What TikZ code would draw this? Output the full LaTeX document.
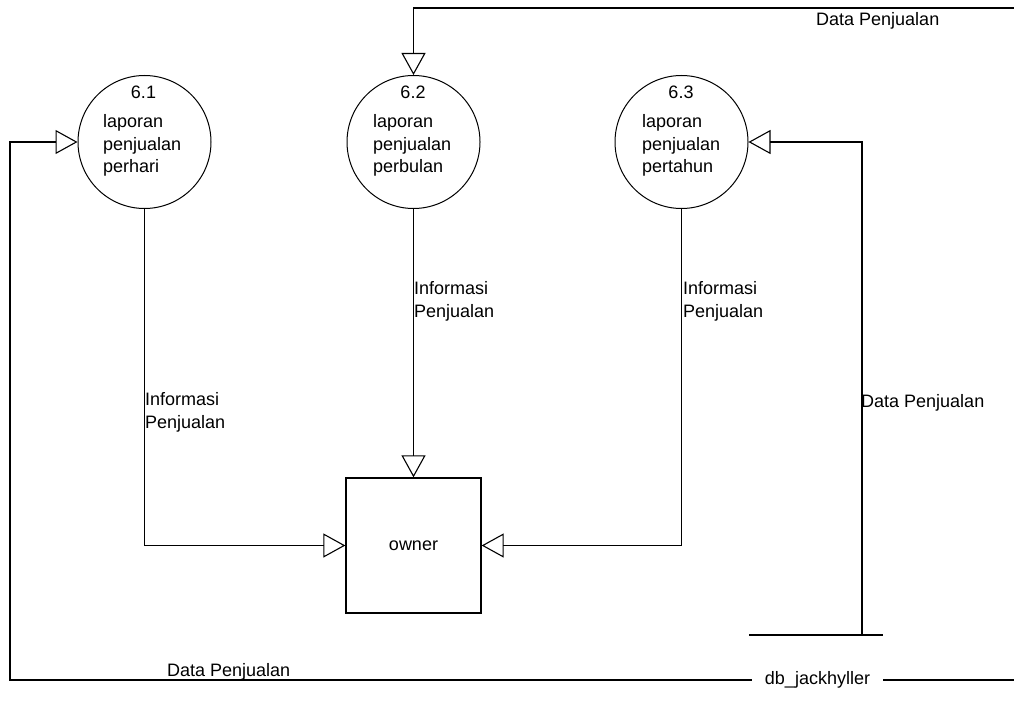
\documentclass[tikz,border=0pt]{standalone}
\usepackage{fontspec}
\setmainfont{Liberation Sans}
\usetikzlibrary{arrows.meta}
\begin{document}
\begin{tikzpicture}[x=1pt,y=-1pt,
  proc/.style={draw, circle, minimum size=133pt, inner sep=0pt, line width=1pt},
  ent/.style={draw, minimum width=135pt, minimum height=135pt, line width=1.3pt, inner sep=0pt, font=\fontsize{18}{22.8}\selectfont},
  flow/.style={line width=1.3pt, -{Triangle[open, length=22pt, width=24pt, line width=1.1pt]}},
  plain/.style={line width=1.3pt},
  txt/.style={font=\fontsize{18}{22.8}\selectfont, inner sep=0pt},
  ]
\useasboundingbox (0,0) rectangle (1014,722);

% processes
\node[proc] (p1) at (144.5,142) {};
\node[proc] (p2) at (413.5,142) {};
\node[proc] (p3) at (681.5,142) {};

\node[txt] (n1) at (143.5,92.5) {6.1};
\node[txt] (n2) at (413,92.5) {6.2};
\node[txt] (n3) at (681,92.5) {6.3};
\node[txt, align=left, anchor=north west] (d1) at (103,114) {laporan\\penjualan\\perhari};
\node[txt, align=left, anchor=north west] (d2) at (373,114) {laporan\\penjualan\\perbulan};
\node[txt, align=left, anchor=north west] (d3) at (642,114) {laporan\\penjualan\\pertahun};

% external entity
\node[ent] (own) at (413.5,545.5) {owner};

% data store
\node[txt, inner xsep=13pt] (store) at (817.5,680) {db\_jackhyller};
\coordinate (st1) at (749,635);
\coordinate (st2) at (883,635);
\coordinate (sj) at (862,635);
\coordinate (bl) at (10,680);
\coordinate (br) at (1014,680);
\coordinate (tr) at (1014,8);
\draw[plain] (st1) -- (st2);
\draw[plain] (store.east) -- (br);

% flows
\draw[flow] (tr) -| (p2.north);
\draw[flow] (store.west) -- (bl) |- (p1.west);
\draw[flow] (sj) |- (p3.east);
\draw[flow] (p1.south) |- (own.west);
\draw[flow] (p2.south) -- (own.north);
\draw[flow] (p3.south) |- (own.east);

% flow labels
\node[txt, anchor=base west] (l1) at (816,26) {Data Penjualan};
\node[txt, anchor=base west] (l2) at (167,676) {Data Penjualan};
\node[txt, anchor=base west] (l3) at (861,407) {Data Penjualan};
\node[txt, align=left, anchor=north west] (i1) at (145,392) {Informasi\\Penjualan};
\node[txt, align=left, anchor=north west] (i2) at (414,281) {Informasi\\Penjualan};
\node[txt, align=left, anchor=north west] (i3) at (683,281) {Informasi\\Penjualan};
\end{tikzpicture}
\end{document}
